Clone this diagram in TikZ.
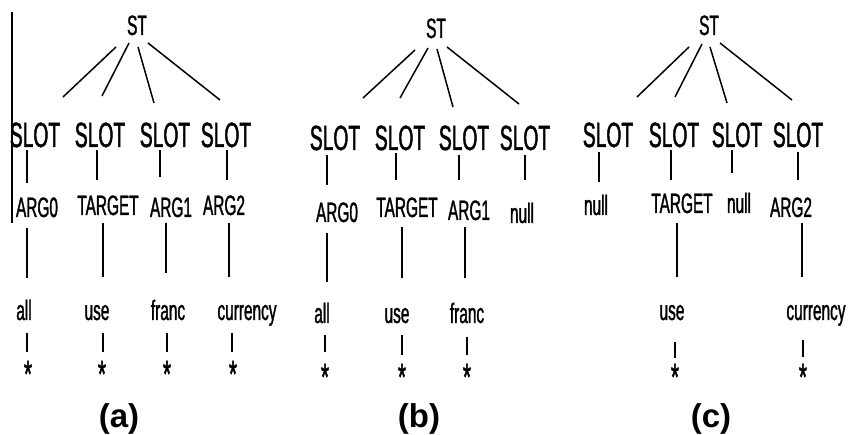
\documentclass[tikz,border=0pt]{standalone}
\usepackage{fontspec}
\setmainfont{Liberation Sans}
\newfontfamily\narrowsans{Liberation Sans}[FakeStretch=0.55,FakeBold=1.2]
\begin{document}
\begin{tikzpicture}[x=1pt,y=-1pt,
  word/.style={anchor=base,inner sep=0pt,font=\narrowsans\fontsize{28}{28}\selectfont},
  slotlbl/.style={anchor=base,inner sep=0pt,font=\narrowsans\fontsize{35}{35}\selectfont},
  starlbl/.style={anchor=base,inner sep=0pt,font=\narrowsans\fontsize{38}{38}\selectfont},
  caption/.style={anchor=base,inner sep=0pt,font=\bfseries\fontsize{33}{33}\selectfont},
  branch/.style={line width=1.5pt},
  stem/.style={line width=1.4pt}]
\useasboundingbox (0,0) rectangle (854,435);

% ---------- tree (a) ----------
\draw[stem] (12,12) -- (12,223);
\node[word] (aST) at (137,35) {ST};
\draw[branch] (116,47) -- (63,97);
\draw[branch] (129,43) -- (102,96);
\draw[branch] (138,47) -- (154,103);
\draw[branch] (148,43) -- (220,100);
\node[slotlbl] (aS1) at (35,147) {SLOT};
\node[slotlbl] (aS2) at (100,147) {SLOT};
\node[slotlbl] (aS3) at (165,147) {SLOT};
\node[slotlbl] (aS4) at (226,147) {SLOT};
\draw[stem] (27,150) -- (27,183);
\draw[stem] (97,150) -- (97,180);
\draw[stem] (160,150) -- (160,177);
\draw[stem] (227,150) -- (227,180);
\node[word] (aR1) at (37,217) {ARG0};
\node[word] (aR2) at (108,215) {TARGET};
\node[word] (aR3) at (171,217) {ARG1};
\node[word] (aR4) at (224,215) {ARG2};
\draw[stem] (27,228) -- (27,278);
\draw[stem] (103,223) -- (103,277);
\draw[stem] (166,223) -- (166,273);
\draw[stem] (229,223) -- (229,277);
\node[word] (aW1) at (24,320) {all};
\node[word] (aW2) at (97,320) {use};
\node[word] (aW3) at (168,320) {franc};
\node[word] (aW4) at (247,320) {currency};
\draw[stem] (27,333) -- (27,352);
\draw[stem] (103,333) -- (103,352);
\draw[stem] (167,333) -- (167,352);
\draw[stem] (232,333) -- (232,352);
\node[starlbl] (aX1) at (28,387) {*};
\node[starlbl] (aX2) at (102,387) {*};
\node[starlbl] (aX3) at (167,387) {*};
\node[starlbl] (aX4) at (233,387) {*};
\node[caption] (capa) at (119,427) {(a)};

% ---------- tree (b) ----------
\node[word] (bST) at (436,38) {ST};
\draw[branch] (415,50) -- (363,98);
\draw[branch] (428,48) -- (400,98);
\draw[branch] (437,49) -- (453,107);
\draw[branch] (447,47) -- (519,104);
\node[slotlbl] (bS1) at (335,150) {SLOT};
\node[slotlbl] (bS2) at (400,150) {SLOT};
\node[slotlbl] (bS3) at (464,150) {SLOT};
\node[slotlbl] (bS4) at (525,150) {SLOT};
\draw[stem] (327,155) -- (327,185);
\draw[stem] (396,153) -- (396,180);
\draw[stem] (459,155) -- (459,180);
\draw[stem] (525,155) -- (525,180);
\node[word] (bR1) at (337,222) {ARG0};
\node[word] (bR2) at (407,217) {TARGET};
\node[word] (bR3) at (469,220) {ARG1};
\node[word] (bR4) at (522,223) {null};
\draw[stem] (327,233) -- (327,282);
\draw[stem] (402,227) -- (402,278);
\draw[stem] (465,227) -- (465,278);
\node[word] (bW1) at (322,323) {all};
\node[word] (bW2) at (397,323) {use};
\node[word] (bW3) at (467,323) {franc};
\draw[stem] (325,335) -- (325,352);
\draw[stem] (402,335) -- (402,355);
\draw[stem] (467,337) -- (467,355);
\node[starlbl] (bX1) at (325,390) {*};
\node[starlbl] (bX2) at (402,390) {*};
\node[starlbl] (bX3) at (467,390) {*};
\node[caption] (capb) at (419,427) {(b)};

% ---------- tree (c) ----------
\node[word] (cST) at (709,35) {ST};
\draw[branch] (689,47) -- (637,97);
\draw[branch] (702,44) -- (675,97);
\draw[branch] (710,47) -- (727,103);
\draw[branch] (720,43) -- (792,100);
\node[slotlbl] (cS1) at (608,147) {SLOT};
\node[slotlbl] (cS2) at (674,147) {SLOT};
\node[slotlbl] (cS3) at (737,147) {SLOT};
\node[slotlbl] (cS4) at (798,147) {SLOT};
\draw[stem] (599,152) -- (599,182);
\draw[stem] (671,150) -- (671,180);
\draw[stem] (732,150) -- (732,173);
\draw[stem] (798,152) -- (798,180);
\node[word] (cR1) at (596,215) {null};
\node[word] (cR2) at (682,213) {TARGET};
\node[word] (cR3) at (739,213) {null};
\node[word] (cR4) at (791,217) {ARG2};
\draw[stem] (677,223) -- (677,277);
\draw[stem] (802,223) -- (802,277);
\node[word] (cW2) at (672,320) {use};
\node[word] (cW4) at (816,320) {currency};
\draw[stem] (675,342) -- (675,358);
\draw[stem] (803,340) -- (803,357);
\node[starlbl] (cX2) at (675,390) {*};
\node[starlbl] (cX4) at (803,390) {*};
\node[caption] (capc) at (711,427) {(c)};
\end{tikzpicture}
\end{document}
